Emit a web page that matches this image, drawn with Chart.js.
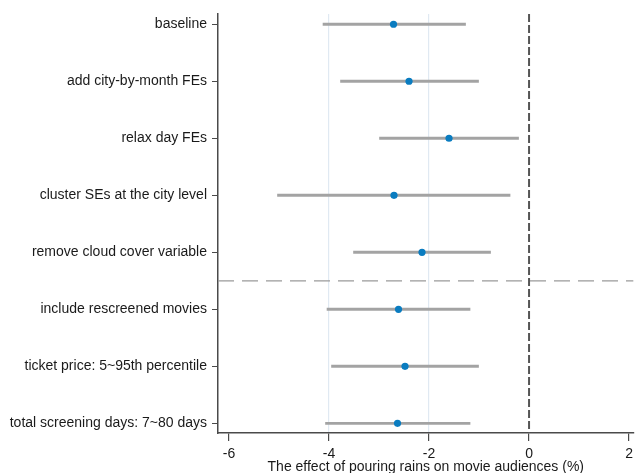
<!DOCTYPE html>
<html>
<head>
<meta charset="utf-8">
<script src="https://cdn.jsdelivr.net/npm/chart.js@4/dist/chart.umd.min.js"></script>
<style>
html,body{margin:0;padding:0;background:#fff;overflow:hidden;}
#wrap{width:638px;height:473px;}
</style>
</head>
<body>
<div id="wrap"><canvas id="c"></canvas></div>
<script>
/* ===== data ===== */
const specs=[
"baseline",
"add city-by-month FEs",
"relax day FEs",
"cluster SEs at the city level",
"remove cloud cover variable",
"include rescreened movies",
"ticket price: 5~95th percentile",
"total screening days: 7~80 days"
];
const estimates=[-2.71,-2.40,-1.60,-2.70,-2.14,-2.61,-2.48,-2.63];
const ciLow=[-4.12,-3.77,-2.99,-5.03,-3.51,-4.04,-3.95,-4.07];
const ciHigh=[-1.27,-1.01,-0.21,-0.38,-0.77,-1.18,-1.01,-1.18];
const xTicks=[-6,-4,-2,0,2];
const gridAt=[-4,-2];
const zeroLine=0;
const splitAt=4.5; // dashed line between row 5 and 6

const xMin=-6.22,xMax=2.09,yMin=-0.18,yMax=7.17;
const axisCol="#4a4a4a";
const font={family:"'Liberation Sans', Arial, sans-serif",size:14};

Chart.defaults.font=font;
Chart.defaults.color="#1a1a1a";

new Chart(document.getElementById("c"),{
type:"scatter",
data:{
datasets:[
{
type:"line",
data:[{x:xMin,y:splitAt},{x:xMax,y:splitAt}],
borderColor:"#9a9a9a",
borderWidth:1.3,
borderDash:[16,8],
pointRadius:0,
order:5
},
{
type:"line",
data:[{x:zeroLine,y:yMin},{x:zeroLine,y:yMax}],
borderColor:"#555",
borderWidth:2,
borderDash:[8,3],
pointRadius:0,
order:4
},
{
type:"bar",
indexAxis:"y",
data:specs.map((s,i)=>({x:[ciLow[i],ciHigh[i]],y:i})),
backgroundColor:"#a3a3a3",
barThickness:2.2,
grouped:false,
order:3
},
{
type:"scatter",
data:estimates.map((v,i)=>({x:v,y:i})),
backgroundColor:"#0a7cc0",
borderColor:"#0a7cc0",
pointRadius:3.6,
borderWidth:0,
order:1
}
]
},
options:{
responsive:true,
maintainAspectRatio:false,
animation:false,
layout:{padding:{top:14,right:0,left:0,bottom:0}},
plugins:{legend:{display:false},tooltip:{enabled:false}},
scales:{
x:{
type:"linear",
offset:false,
min:xMin,max:xMax,
afterBuildTicks:s=>{s.ticks=xTicks.map(v=>({value:v}));},
ticks:{padding:5,color:"#1a1a1a",font:font},
grid:{
offset:false,
color:c=>c.tick&&gridAt.includes(c.tick.value)?"#e0e9f2":"rgba(0,0,0,0)",
lineWidth:1.2,
tickColor:axisCol,
tickLength:8,
drawTicks:true
},
border:{color:axisCol,width:1.5},
title:{display:true,text:"The effect of pouring rains on movie audiences (%)",color:"#1a1a1a",font:font,padding:{top:0,bottom:-3}},
afterFit:s=>{s.height=40;}
},
y:{
type:"linear",
offset:false,
min:yMin,max:yMax,reverse:true,
afterBuildTicks:s=>{s.ticks=specs.map((t,i)=>({value:i}));},
ticks:{padding:5,color:"#1a1a1a",font:font,callback:v=>specs[v]},
grid:{offset:false,drawOnChartArea:false,tickColor:axisCol,tickLength:6},
border:{color:axisCol,width:1.5},
afterFit:s=>{s.width=218;}
}
}
}
});
</script>
</body>
</html>
